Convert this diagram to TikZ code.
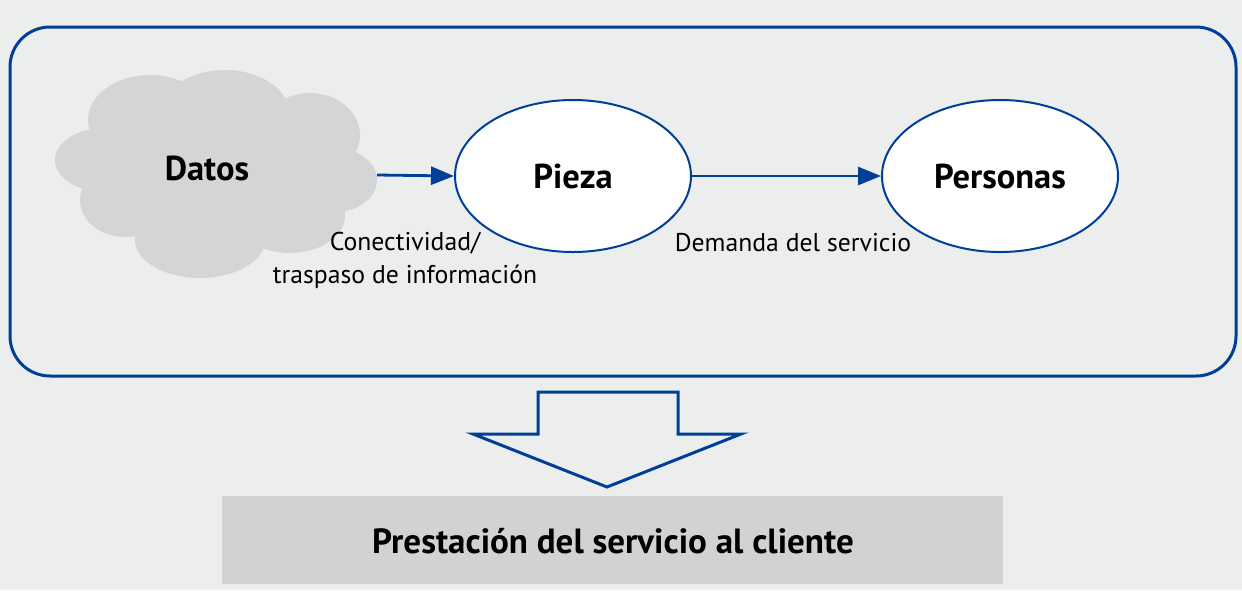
\documentclass[tikz,border=0pt]{standalone}
\usepackage{fontspec}
\setmainfont{PT Sans}
\usetikzlibrary{shapes.geometric,arrows.meta}
\definecolor{bg}{HTML}{ECEEEE}
\definecolor{frame}{HTML}{003F97}
\definecolor{cloudgray}{HTML}{D4D5D7}
\definecolor{boxgray}{HTML}{D1D2D3}
\tikzset{
  bigtxt/.style={font=\bfseries\fontsize{34.5}{40}\selectfont},
  oval/.style={ellipse, draw=frame, line width=2pt, fill=white, minimum width=236pt, minimum height=152pt, bigtxt},
  flow/.style={draw=frame, line width=2.8pt, -{Triangle[length=23pt,width=18pt]}},
  lbl/.style={font=\fontsize{25.7}{33}\selectfont, align=center},
  puff/.style={fill=cloudgray},
}
\begin{document}
\begin{tikzpicture}[x=1pt,y=-1pt]
\fill[bg] (0,0) rectangle (1242,590);
\useasboundingbox (0,0) rectangle (1242,590);
\draw[frame, line width=3pt, rounded corners=40pt] (10,27) rectangle (1236,376);
% cloud
\fill[puff] (105,160) ellipse [x radius=50, y radius=32];
\fill[puff] (150,120) ellipse [x radius=62, y radius=45];
\fill[puff] (225,115) ellipse [x radius=65, y radius=45];
\fill[puff] (310,135) ellipse [x radius=50, y radius=42];
\fill[puff] (335,180) ellipse [x radius=42, y radius=32];
\fill[puff] (290,215) ellipse [x radius=55, y radius=38];
\fill[puff] (200,240) ellipse [x radius=65, y radius=38];
\fill[puff] (125,200) ellipse [x radius=45, y radius=37];
\fill[puff] (215,175) ellipse [x radius=120, y radius=65];
\node[bigtxt] (datos) at (207,168) {Datos};
\node[oval] (pieza) at (573,176) {Pieza};
\node[oval] (personas) at (1000,176) {Personas};
\coordinate (dstart) at (377,175);
\draw[flow] (dstart) -- (pieza.west);
\draw[flow] (pieza.east) -- (personas.west);
\node[lbl] (l1) at (405,260) {Conectividad/\\traspaso de información};
\node[lbl] (l2) at (793,243) {Demanda del servicio};
\draw[frame, line width=3pt, line join=miter] (538,392) -- (678,392) -- (678,434) -- (741,434) -- (607,487) -- (473,434) -- (538,434) -- cycle;
\node[fill=boxgray, minimum width=781pt, minimum height=88pt] (result) at (612.5,540) {};
\node[font=\bfseries\fontsize{35}{40}\selectfont] (resulttxt) at (613,541) {Prestación del servicio al cliente};
\end{tikzpicture}
\end{document}
